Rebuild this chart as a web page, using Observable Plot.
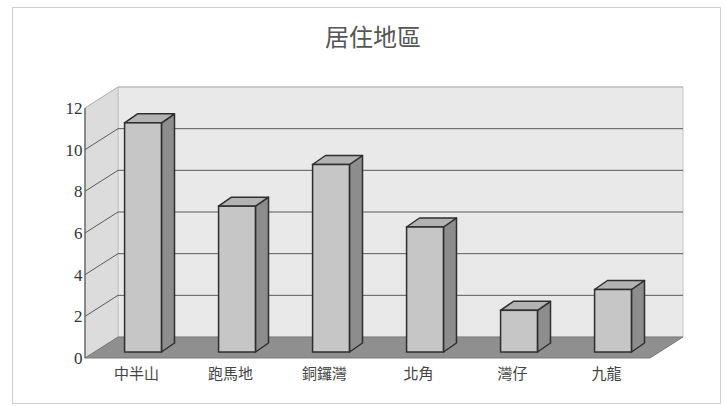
<!DOCTYPE html>
<html><head><meta charset="utf-8">
<script src="https://cdn.jsdelivr.net/npm/d3@7"></script>
<script src="https://cdn.jsdelivr.net/npm/@observablehq/plot@0.6"></script>
<style>
body{margin:0;background:#fff;}
#wrap{position:relative;width:726px;height:406px;overflow:hidden;background:#fff;}
#frame{position:absolute;left:12px;top:7px;width:709px;height:397px;border:1px solid #cfcfcf;box-sizing:border-box;}
#title{position:absolute;left:373px;top:23px;transform:translateX(-50%);font:24px/26px "Noto Sans CJK TC",sans-serif;color:#555;white-space:nowrap;}
#chart{position:absolute;left:0;top:60px;}
</style>
</head><body>
<div id="wrap"><div id="frame"></div><div id="title"></div><div id="chart"></div></div>
<script>
const titleText = "居住地區";
const categories = ["中半山", "跑馬地", "銅鑼灣", "北角", "灣仔", "九龍"];
const counts = [11, 7, 9, 6, 2, 3];
const yTicks = [0, 2, 4, 6, 8, 10, 12];

document.getElementById("title").textContent = titleText;

const data = categories.map((c, i) => ({cat: c, n: counts[i]}));
const wallDepth = {dx: 33, dy: -21};
const barFront = {dx: 10, dy: -6};
const barDepth = {dx: 13, dy: -9};
const barWidth = 37;
const outline = "#2e2e2e";

function bandwidthOf(scales, dims) {
  return scales.x.bandwidth ? scales.x.bandwidth()
    : (dims.width - dims.marginLeft - dims.marginRight) / categories.length;
}

function walls(index, scales, values, dims) {
  const g = d3.create("svg:g");
  const x0 = dims.marginLeft, x1 = dims.width - dims.marginRight;
  const y0 = scales.y(0), yT = scales.y(yTicks[yTicks.length - 1]);
  const D = wallDepth;
  const poly = (pts, fill, stroke) => g.append("path")
    .attr("d", "M" + pts.map(p => p.join(",")).join("L") + "Z")
    .attr("fill", fill).attr("stroke", stroke || "none").attr("stroke-width", 1);
  // back wall
  poly([[x0 + D.dx, yT + D.dy], [x1 + D.dx, yT + D.dy], [x1 + D.dx, y0 + D.dy], [x0 + D.dx, y0 + D.dy]], "#e9e9e9", "#c4c4c4");
  // left wall
  poly([[x0, yT], [x0 + D.dx, yT + D.dy], [x0 + D.dx, y0 + D.dy], [x0, y0]], "#dcdcdc", "#c4c4c4");
  // floor
  poly([[x0, y0], [x1, y0], [x1 + D.dx, y0 + D.dy], [x0 + D.dx, y0 + D.dy]], "#8f8f8f", "#7a7a7a");
  // gridlines
  for (const v of yTicks) {
    if (v === 0) continue;
    const y = scales.y(v);
    const col = v === yTicks[yTicks.length - 1] ? "#b8b8b8" : "#5a5a5a";
    g.append("path").attr("d", `M${x0},${y}L${x0 + D.dx},${y + D.dy}L${x1 + D.dx},${y + D.dy}`)
      .attr("fill", "none").attr("stroke", col).attr("stroke-width", 1);
  }
  // axis line
  g.append("line").attr("x1", x0).attr("x2", x0).attr("y1", y0).attr("y2", yT)
    .attr("stroke", "#555").attr("stroke-width", 1.2);
  return g.node();
}

function barSides(index, scales, values, dims) {
  const g = d3.create("svg:g");
  const bw = bandwidthOf(scales, dims);
  const inset = (bw - barWidth) / 2;
  data.forEach(d => {
    const xl = scales.x(d.cat) + inset + barFront.dx;
    const xr = scales.x(d.cat) + bw - inset + barFront.dx;
    const yt = scales.y(d.n) + barFront.dy;
    const yb = scales.y(0) + barFront.dy;
    const B = barDepth;
    g.append("path")
      .attr("d", `M${xr},${yt}L${xr + B.dx},${yt + B.dy}L${xr + B.dx},${yb + B.dy}L${xr},${yb}Z`)
      .attr("fill", "#8d8d8d").attr("stroke", outline).attr("stroke-width", 1.5).attr("stroke-linejoin", "round");
    g.append("path")
      .attr("d", `M${xl},${yt}L${xl + B.dx},${yt + B.dy}L${xr + B.dx},${yt + B.dy}L${xr},${yt}Z`)
      .attr("fill", "#b3b3b3").attr("stroke", outline).attr("stroke-width", 1.5).attr("stroke-linejoin", "round");
  });
  return g.node();
}

const bwGuess = (726 - 85 - 76) / categories.length;
const chart = Plot.plot({
  width: 726,
  height: 346,
  marginLeft: 85,
  marginRight: 76,
  marginTop: 48,
  marginBottom: 48,
  x: {domain: categories, padding: 0, label: null},
  y: {domain: [0, 12], label: null},
  style: {background: "transparent", overflow: "visible"},
  marks: [
    walls,
    Plot.axisY({ticks: yTicks, tickSize: 0, tickPadding: 3, fontSize: 17, fontFamily: "Liberation Serif", fill: "#333", label: null}),
    Plot.axisX({tickSize: 0, tickPadding: 10, fontSize: 15, fontFamily: "Noto Sans CJK TC", fill: "#444", dx: 3, label: null}),
    barSides,
    Plot.barY(data, {
      x: "cat", y: "n",
      insetLeft: (bwGuess - barWidth) / 2, insetRight: (bwGuess - barWidth) / 2,
      dx: barFront.dx, dy: barFront.dy,
      fill: "#c6c6c6", stroke: outline, strokeWidth: 1.5
    })
  ]
});
document.getElementById("chart").appendChild(chart);
</script>
</body></html>
